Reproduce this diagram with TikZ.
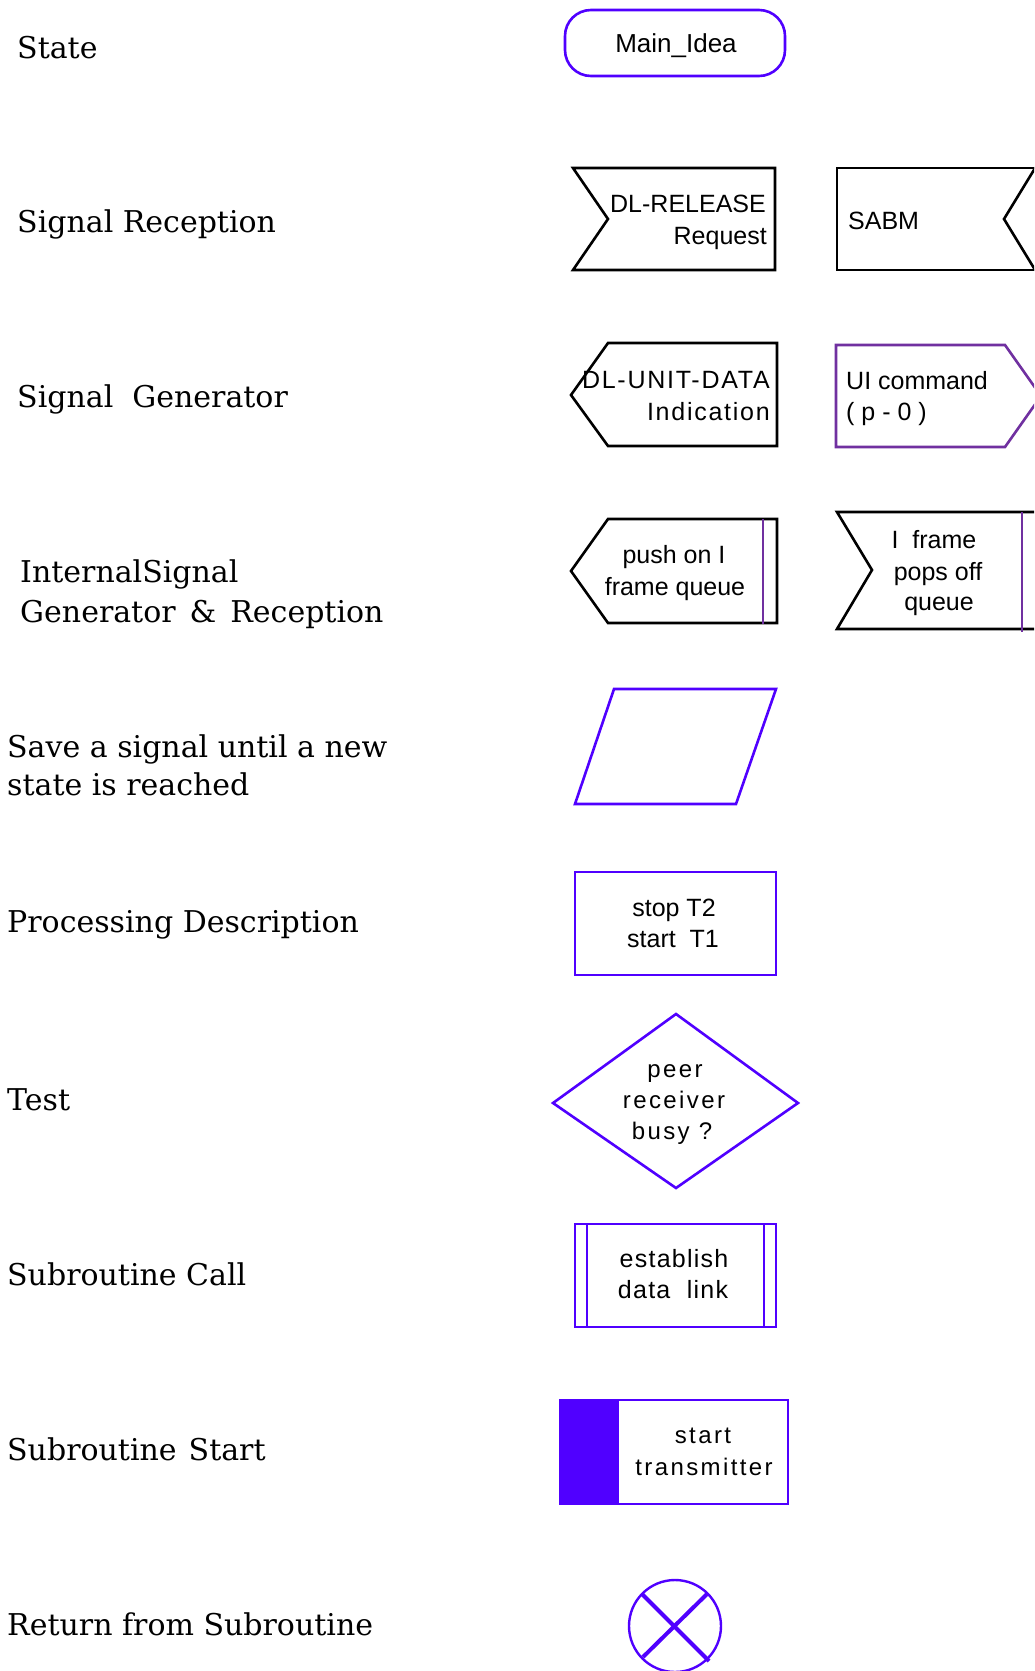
\documentclass[tikz,border=0pt]{standalone}
\usepackage{fontspec}
\usetikzlibrary{calc}
\setmainfont{DejaVu Serif}
\newfontfamily\shfont{Liberation Sans}
\newfontfamily\shspfont[LetterSpace=10]{Liberation Sans}
\newfontfamily\shsmfont[LetterSpace=5]{Liberation Sans}
\newfontfamily\shmdfont[LetterSpace=7]{Liberation Sans}
\definecolor{sdlblue}{RGB}{80,0,255}
\definecolor{sdlpurple}{RGB}{112,48,160}
\tikzset{
  lbl/.style={anchor=base west, inner sep=0pt, font=\fontsize{30}{36}\selectfont},
  txt/.style={inner sep=0pt, font=\shfont\fontsize{25}{30}\selectfont},
  txtsp/.style={inner sep=0pt, font=\shspfont\fontsize{24}{30}\selectfont},
  txtsm/.style={inner sep=0pt, font=\shsmfont\fontsize{25}{30}\selectfont},
  txtmd/.style={inner sep=0pt, font=\shmdfont\fontsize{25}{30}\selectfont},
  blueline/.style={draw=sdlblue, line width=2.6pt, line join=miter},
  blackline/.style={draw=black, line width=2.6pt, line join=miter},
  purpleline/.style={draw=sdlpurple, line width=2.6pt, line join=miter},
}
\begin{document}
\begin{tikzpicture}[x=1pt,y=-1pt]
\useasboundingbox (0,0) rectangle (1034,1671);
\clip (0,0) rectangle (1034,1671);
\fill[white] (0,0) rectangle (1034,1671);

% ---- left-hand labels ----
\node[lbl] (l1) at (17,58) {State};
\node[lbl] (l2) at (17,232) {Signal Reception};
\node[lbl] (l3) at (17,407) {Signal\ \ Generator};
\node[lbl] (l4a) at (20,582) {InternalSignal};
\node[lbl] (l4b) at (20,622) {Generator\hspace{14pt}\&\hspace{14pt}Reception};
\node[lbl] (l5a) at (7,757) {Save a signal until a new};
\node[lbl] (l5b) at (7,795) {state is reached};
\node[lbl] (l6) at (7,932) {Processing Description};
\node[lbl] (l7) at (7,1110) {Test};
\node[lbl] (l8) at (7,1285) {Subroutine Call};
\node[lbl] (l9) at (7,1460) {Subroutine\hspace{12pt}Start};
\node[lbl] (l10) at (7,1635) {Return from Subroutine};

% ---- State ----
\draw[blueline, rounded corners=26pt] (565,10) rectangle (785,76);
\node[txt, anchor=base, font=\shfont\fontsize{26}{30}\selectfont] (state) at (676,52) {Main\_Idea};

% ---- Signal reception ----
\draw[blackline] (573,168) -- (775,168) -- (775,270) -- (573,270) -- (608,219) -- cycle;
\node[txt, anchor=base east] (rx1a) at (766,212) {DL-RELEASE};
\node[txt, anchor=base east] (rx1b) at (767,244) {Request};

\draw[blackline] (1045,168) -- (837,168) -- (837,270) -- (1045,270);
\draw[blackline] (1040,160) -- (1004,219) -- (1040,278);
\node[txt, anchor=base west] (rx2) at (848,229) {SABM};

% ---- Signal generator ----
\draw[blackline] (608,343) -- (777,343) -- (777,446) -- (608,446) -- (571,395) -- cycle;
\node[txtmd, anchor=base east] (tx1a) at (770,388) {DL-UNIT-DATA};
\node[txtmd, anchor=base east] (tx1b) at (770,420) {Indication};

\draw[purpleline] (836,345) -- (1005,345) -- (1041,396) -- (1005,447) -- (836,447) -- cycle;
\node[txt, anchor=base west] (tx2a) at (846,389) {UI command};
\node[txt, anchor=base west] (tx2b) at (846,420) {( p - 0 )};

% ---- Internal signal ----
\draw[blackline] (608,519) -- (777,519) -- (777,623) -- (608,623) -- (571,571) -- cycle;
\draw[purpleline] (763,519) -- (763,624);
\node[txt, anchor=base] (is1a) at (674,563) {push on I};
\node[txt, anchor=base] (is1b) at (675,595) {frame queue};

\draw[blackline] (1045,512) -- (837,512) -- (872,570) -- (837,629) -- (1045,629);
\draw[purpleline] (1022,512) -- (1022,632);
\node[txt, anchor=base] (is2a) at (934,548) {I\ \ frame};
\node[txt, anchor=base] (is2b) at (938,580) {pops off};
\node[txt, anchor=base] (is2c) at (939,610) {queue};

% ---- Save ----
\draw[blueline] (614,689) -- (776,689) -- (736,804) -- (575,804) -- cycle;

% ---- Processing description ----
\draw[blueline] (575,872) rectangle (776,975);
\node[txt, anchor=base] (pd1) at (674,916) {stop\ T2};
\node[txt, anchor=base] (pd2) at (673,947) {start\ \ T1};

% ---- Test ----
\draw[blueline] (676,1014) -- (798,1103) -- (676,1188) -- (553,1103) -- cycle;
\node[txtsp, anchor=base] (ts1) at (675,1077) {peer};
\node[txtsp, anchor=base] (ts2) at (674,1108) {receiver};
\node[txtsp, anchor=base] (ts3) at (672,1139) {busy ?};

% ---- Subroutine call ----
\draw[blueline, line width=2.2pt] (575,1224) rectangle (776,1327);
\draw[blueline, line width=2.2pt] (587,1224) -- (587,1327);
\draw[blueline, line width=2.2pt] (764,1224) -- (764,1327);
\node[txtsm, anchor=base] (sc1) at (674,1267) {establish};
\node[txtsm, anchor=base] (sc2) at (673,1298) {data\ \ link};

% ---- Subroutine start ----
\fill[sdlblue] (559,1399) rectangle (618,1505);
\draw[blueline, line width=2.2pt] (618,1400) rectangle (788,1504);
\node[txtsp, anchor=base] (ss1) at (703,1443) {start};
\node[txtsp, anchor=base] (ss2) at (704,1475) {transmitter};

% ---- Return ----
\coordinate (rc) at (675,1626);
\draw[blueline, line width=2.4pt] (rc) circle[radius=46];
\draw[blueline, line width=4pt] ($(rc)+(-33,-32)$) -- ($(rc)+(34,35)$);
\draw[blueline, line width=4pt] ($(rc)+(32,-32)$) -- ($(rc)+(-32,31)$);
\end{tikzpicture}
\end{document}
